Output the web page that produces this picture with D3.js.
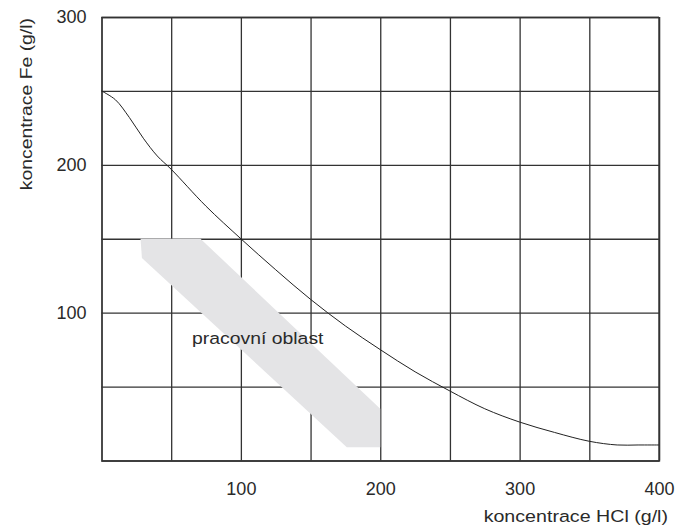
<!DOCTYPE html>
<html>
<head>
<meta charset="utf-8">
<script src="https://cdn.jsdelivr.net/npm/d3@7"></script>
<style>
  body { margin: 0; background: #fff; }
  svg text { font-family: "Liberation Sans", Arial, sans-serif; fill: #2a2a2a; }
</style>
</head>
<body>
<svg id="chart"></svg>
<script>
// curve: max Fe concentration vs HCl concentration
const hclValues = [0, 10, 20, 30, 40, 50, 75, 100, 125, 150, 175, 200, 225, 250, 275, 300, 325, 350, 370, 385, 400]
const feValues = [250, 244, 232, 218, 206, 197, 172, 150, 129, 109, 91, 75, 60, 47, 35, 26, 19, 13, 10.5, 10.5, 10.5]

// shaded working region (polygon corners)
const areaHcl = [28, 71, 200, 200, 176, 29]
const areaFe = [150, 150, 35, 9, 9, 137]
const areaLabel = "pracovní oblast"

const gridTicks = [50, 100, 150, 200, 250, 300, 350, 400]
const xTitle = "koncentrace HCl (g/l)"
const yTitle = "koncentrace Fe (g/l)"

const width = 676, height = 526
const margin = {top: 17, right: 17, bottom: 65.5, left: 101.5}
const w = width - margin.left - margin.right
const h = height - margin.top - margin.bottom

const svg = d3.select("#chart")
    .attr("width", width)
    .attr("height", height)

const g = svg.append("g")
    .attr("transform", `translate(${margin.left}, ${margin.top})`)

const x = d3.scaleLinear().domain([0, 400]).range([0, w])
const y = d3.scaleLinear().domain([0, 300]).range([h, 0])

const fmt = d => (d % 100 === 0 ? d : "")

// grid + axes
const xAxis = g.append("g")
    .attr("transform", `translate(0, ${h})`)
    .call(d3.axisBottom(x).tickValues(gridTicks).tickSize(-h).tickPadding(22).tickFormat(fmt))
const yAxis = g.append("g")
    .call(d3.axisLeft(y).tickValues(gridTicks.filter(d => d <= 300)).tickSize(-w).tickPadding(15).tickFormat(fmt))

for (const ax of [xAxis, yAxis]) {
    ax.select(".domain").attr("stroke", "#333").attr("stroke-width", 1.3)
    ax.selectAll(".tick line").attr("stroke", "#333").attr("stroke-width", 1.3)
    ax.selectAll(".tick text").style("font-size", "18px").attr("fill", "#2a2a2a")
}
// right border
g.append("line")
    .attr("x1", x(400)).attr("x2", x(400))
    .attr("y1", 0).attr("y2", h)
    .attr("stroke", "#333").attr("stroke-width", 1.3)

// working region
const areaPts = areaHcl.map((d, i) => [x(d), y(areaFe[i])])
g.append("polygon")
    .attr("points", areaPts.map(p => p.join(",")).join(" "))
    .attr("fill", "#e4e4e6")

// the original text is a bit wider than it is tall
g.append("text")
    .attr("transform", `translate(${x(65)}, ${y(79)}) scale(1.14, 1)`)
    .style("font-size", "17px")
    .text(areaLabel)

// curve
const line = d3.line()
    .x((d, i) => x(d))
    .y((d, i) => y(feValues[i]))
    .curve(d3.curveCatmullRom.alpha(0.5))

g.append("path")
    .datum(hclValues)
    .attr("d", line)
    .attr("fill", "none")
    .attr("stroke", "#222")
    .attr("stroke-width", 1)

// axis titles
svg.append("text")
    .attr("transform", "translate(668, 522) scale(1.155, 1)")
    .attr("text-anchor", "end")
    .style("font-size", "17px")
    .text(xTitle)

svg.append("text")
    .attr("transform", "translate(32, 18) rotate(-90) scale(1.14, 1)")
    .attr("text-anchor", "end")
    .style("font-size", "17px")
    .text(yTitle)
</script>
</body>
</html>
